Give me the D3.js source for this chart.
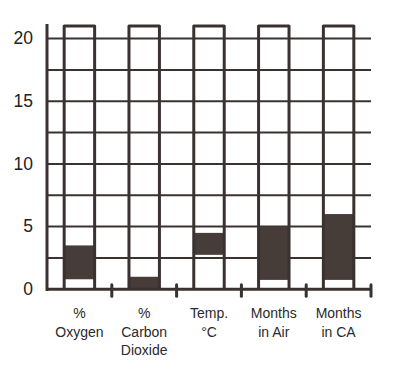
<!DOCTYPE html>
<html>
<head>
<meta charset="utf-8">
<script src="https://cdn.jsdelivr.net/npm/d3@7"></script>
<style>
  html, body { margin: 0; padding: 0; background: #ffffff; }
  svg { display: block; }
</style>
</head>
<body>
<svg id="chart" width="400" height="379"></svg>
<script>
// ---- data ----
const categories = ["% Oxygen", "% Carbon Dioxide", "Temp. °C", "Months in Air", "Months in CA"];
const labelLines = [["%", "Oxygen"], ["%", "Carbon", "Dioxide"], ["Temp.", "°C"], ["Months", "in Air"], ["Months", "in CA"]];
const rangeLow = [0.8, 0, 2.75, 0.75, 0.75];
const rangeHigh = [3.5, 1, 4.5, 5, 6];
const columnTop = [21, 21, 21, 21, 21];
const yTickValues = [0, 5, 10, 15, 20];
const gridValues = [2.5, 5, 7.5, 10, 12.5, 15, 17.5, 20];

// ---- drawing ----
const ink = "#3a3230";
const fillInk = "#463c38";
const svg = d3.select("#chart");

const x = d3.scaleBand().domain(categories).range([47, 371]).paddingInner(0).paddingOuter(0);
const y = d3.scaleLinear().domain([0, 21]).range([289.3, 26]);
const colW = x.bandwidth() * 0.47;

// grid lines
svg.append("g").selectAll("line").data(gridValues).join("line")
  .attr("x1", 47).attr("x2", 371)
  .attr("y1", d => y(d)).attr("y2", d => y(d))
  .attr("stroke", ink).attr("stroke-width", 2);

// filled ranges
svg.append("g").selectAll("rect").data(categories).join("rect")
  .attr("x", d => x(d) + x.bandwidth() / 2 - colW / 2)
  .attr("width", colW)
  .attr("y", (d, i) => y(rangeHigh[i]))
  .attr("height", (d, i) => y(rangeLow[i]) - y(rangeHigh[i]))
  .attr("fill", fillInk);

// column outlines
svg.append("g").selectAll("path").data(categories).join("path")
  .attr("d", (d, i) => {
    const x0 = x(d) + x.bandwidth() / 2 - colW / 2;
    const x1 = x0 + colW;
    return `M${x0},${y(0)} L${x0},${y(columnTop[i])} L${x1},${y(columnTop[i])} L${x1},${y(0)}`;
  })
  .attr("fill", "none").attr("stroke", ink).attr("stroke-width", 3)
  .attr("stroke-linejoin", "round");

// left axis line
svg.append("line")
  .attr("x1", 47).attr("x2", 47).attr("y1", 24).attr("y2", 291)
  .attr("stroke", ink).attr("stroke-width", 3);

// bottom axis
const xAxis = d3.axisBottom(x).tickFormat("").tickSize(0);
const gx = svg.append("g").attr("transform", `translate(0,${y(0)})`).call(xAxis);
gx.select(".domain").attr("stroke", ink).attr("stroke-width", 3).attr("d", "M46,0H371");

// tick marks at band boundaries
const boundaries = categories.map(c => x(c) + x.bandwidth());
svg.append("g").selectAll("line").data(boundaries).join("line")
  .attr("x1", d => d).attr("x2", d => d)
  .attr("y1", y(0) - 4.5).attr("y2", y(0) + 7)
  .attr("stroke", ink).attr("stroke-width", 3).attr("stroke-linecap", "round");

// y axis labels
const yAxis = d3.axisLeft(y).tickValues(yTickValues).tickSize(0).tickPadding(14);
const gy = svg.append("g").attr("transform", "translate(47,0)").call(yAxis);
gy.select(".domain").remove();
gy.selectAll("text")
  .attr("font-family", "Liberation Sans, Arial, sans-serif")
  .attr("font-size", 17.5).attr("fill", "#222")
  .attr("dy", "0.3em").attr("dx", 0);

// x labels
const lab = svg.append("g").selectAll("text").data(categories).join("text")
  .attr("x", d => x(d) + x.bandwidth() / 2)
  .attr("y", 318)
  .attr("text-anchor", "middle")
  .attr("font-family", "Liberation Sans, Arial, sans-serif")
  .attr("font-size", 14).attr("fill", "#2a2a2a");
lab.each(function(d, i) {
  d3.select(this).selectAll("tspan").data(labelLines[i]).join("tspan")
    .attr("x", x(d) + x.bandwidth() / 2)
    .attr("dy", (t, j) => j === 0 ? 0 : 18.5)
    .text(t => t);
});
</script>
</body>
</html>
